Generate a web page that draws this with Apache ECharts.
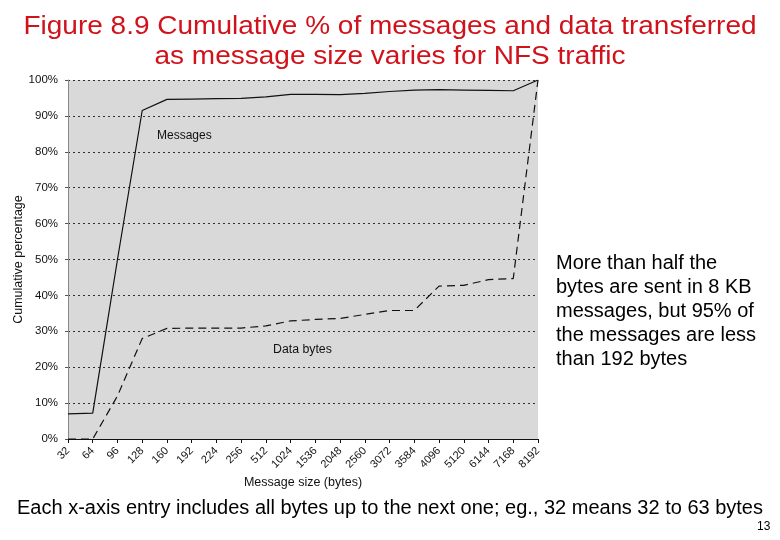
<!DOCTYPE html>
<html lang="en">
<head>
    <meta charset="UTF-8">
    <title>NFS message sizes</title>
    <script src="https://cdn.jsdelivr.net/npm/echarts@6/dist/echarts.min.js"></script>
    <style>
        html, body { margin: 0; padding: 0; background: #fff; }
    </style>
</head>
<body>
<div id="main" style="width: 780px;height:540px;"></div>

<script type="text/javascript">
    // message size buckets (bytes)
    var sizes = ['32', '64', '96', '128', '160', '192', '224', '256', '512', '1024',
        '1536', '2048', '2560', '3072', '3584', '4096', '5120', '6144', '7168', '8192'];
    // cumulative % of messages
    var messages = [7, 7.2, 50, 91.5, 94.6, 94.7, 94.8, 94.9, 95.3, 96.0,
        96.0, 95.9, 96.3, 96.8, 97.2, 97.3, 97.2, 97.1, 97.0, 100];
    // cumulative % of data bytes
    var dataBytes = [0, 0, 12, 28, 30.8, 30.9, 30.9, 30.9, 31.5, 32.9,
        33.3, 33.6, 34.7, 35.8, 35.8, 42.6, 42.8, 44.4, 44.7, 100];
    var yTicks = [0, 10, 20, 30, 40, 50, 60, 70, 80, 90, 100];

    var myChart = echarts.init(document.getElementById('main'));
    var font = 'Liberation Sans, Arial, Helvetica, sans-serif';

    var option = {
        animation: false,
        grid: {
            left: 68,
            right: 242,
            top: 80,
            bottom: 101,
            outerBoundsMode: 'none',
            show: true,
            backgroundColor: '#d9d9d9',
            borderWidth: 0
        },
        xAxis: {
            type: 'category',
            data: sizes,
            boundaryGap: false,
            name: 'Message size (bytes)',
            nameLocation: 'middle',
            nameGap: 37,
            nameMoveOverlap: false,
            nameTextStyle: { color: '#111', fontSize: 12.5, fontFamily: font },
            axisLine: { lineStyle: { color: '#111', width: 1 } },
            axisTick: { show: true, length: 4, lineStyle: { color: '#111' } },
            axisLabel: { rotate: 45, color: '#111', fontSize: 11, fontFamily: font, margin: 10, interval: 0 },
            splitLine: { show: false }
        },
        yAxis: {
            type: 'value',
            min: yTicks[0],
            max: yTicks[yTicks.length - 1],
            interval: 10,
            name: 'Cumulative percentage',
            nameLocation: 'middle',
            nameGap: 43,
            nameRotate: 90,
            nameMoveOverlap: false,
            nameTextStyle: { color: '#111', fontSize: 12.5, fontFamily: font },
            axisLine: { show: true, lineStyle: { color: '#888', width: 1 } },
            axisTick: { show: true, length: 3, lineStyle: { color: '#555' } },
            axisLabel: { formatter: '{value}%', color: '#111', fontSize: 11.5, fontFamily: font, margin: 10 },
            splitLine: { show: true, lineStyle: { type: [2, 3], color: '#333', width: 1 } }
        },
        series: [
            {
                name: 'Messages',
                type: 'line',
                data: messages,
                symbol: 'none',
                lineStyle: { color: '#111', width: 1.2 },
                z: 3
            },
            {
                name: 'Data bytes',
                type: 'line',
                data: dataBytes,
                symbol: 'none',
                lineStyle: { color: '#111', width: 1.2, type: [8, 5] },
                z: 3
            }
        ],
        graphic: [
            {
                // title text is a little stretched horizontally in the original slide
                type: 'text', x: 390, y: 12, scaleX: 1.12,
                style: {
                    text: 'Figure 8.9 Cumulative % of messages and data transferred\nas message size varies for NFS traffic',
                    fill: '#d0121b', fontSize: 25, lineHeight: 30, fontFamily: font,
                    align: 'center'
                }
            },
            {
                type: 'text', left: 157, top: 130,
                style: { text: 'Messages', fill: '#111', fontSize: 12, fontFamily: font }
            },
            {
                type: 'text', left: 273, top: 344,
                style: { text: 'Data bytes', fill: '#111', fontSize: 12.3, fontFamily: font }
            },
            {
                type: 'text', left: 556, top: 251,
                style: {
                    text: 'More than half the\nbytes are sent in 8 KB\nmessages, but 95% of\nthe messages are less\nthan 192 bytes',
                    fill: '#000', fontSize: 20, lineHeight: 24, fontFamily: font
                }
            },
            {
                type: 'text', left: 17, top: 498,
                style: {
                    text: 'Each x-axis entry includes all bytes up to the next one; eg., 32 means 32 to 63 bytes',
                    fill: '#000', fontSize: 20, fontFamily: font
                }
            },
            {
                type: 'text', left: 757, top: 521,
                style: { text: '13', fill: '#000', fontSize: 12, fontFamily: font }
            }
        ]
    };

    myChart.setOption(option);
</script>
</body>
</html>
